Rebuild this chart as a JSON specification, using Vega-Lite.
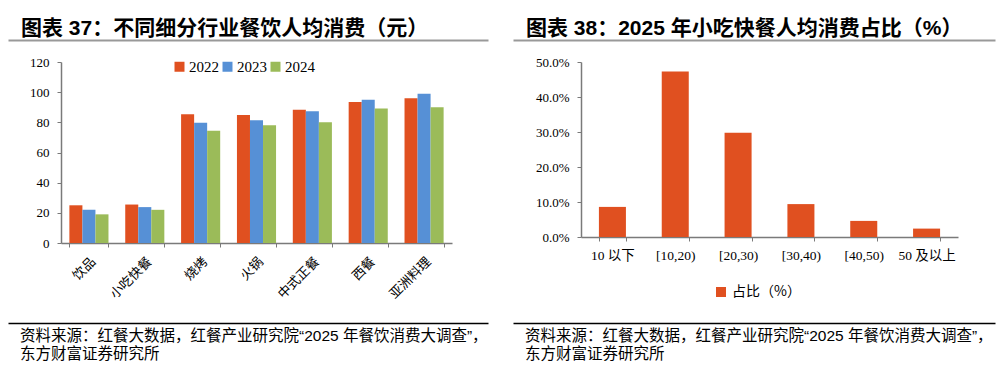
{
  "$schema": "https://vega.github.io/schema/vega-lite/v6.json",
  "padding": {"left": 5, "top": 17, "right": 5, "bottom": 0},
  "background": "#ffffff",
  "config": {
    "view": {"stroke": null},
    "font": "Liberation Sans, Noto Sans CJK SC",
    "axis": {"grid": false}
  },
  "datasets": {
    "spend": [
      {"cat": "饮品", "year": "2022", "value": 25.0},
      {"cat": "饮品", "year": "2023", "value": 22.0},
      {"cat": "饮品", "year": "2024", "value": 19.0},
      {"cat": "小吃快餐", "year": "2022", "value": 25.5},
      {"cat": "小吃快餐", "year": "2023", "value": 23.8},
      {"cat": "小吃快餐", "year": "2024", "value": 22.0},
      {"cat": "烧烤", "year": "2022", "value": 85.3},
      {"cat": "烧烤", "year": "2023", "value": 79.8},
      {"cat": "烧烤", "year": "2024", "value": 74.4},
      {"cat": "火锅", "year": "2022", "value": 84.8},
      {"cat": "火锅", "year": "2023", "value": 81.3},
      {"cat": "火锅", "year": "2024", "value": 78.0},
      {"cat": "中式正餐", "year": "2022", "value": 88.4},
      {"cat": "中式正餐", "year": "2023", "value": 87.3},
      {"cat": "中式正餐", "year": "2024", "value": 80.0},
      {"cat": "西餐", "year": "2022", "value": 93.5},
      {"cat": "西餐", "year": "2023", "value": 95.0},
      {"cat": "西餐", "year": "2024", "value": 89.2},
      {"cat": "亚洲料理", "year": "2022", "value": 96.0},
      {"cat": "亚洲料理", "year": "2023", "value": 99.0},
      {"cat": "亚洲料理", "year": "2024", "value": 90.0}
    ],
    "pct": [
      {"bucket": "10 以下", "series": "占比（%）", "pct": 0.086},
      {"bucket": "[10,20)", "series": "占比（%）", "pct": 0.473},
      {"bucket": "[20,30)", "series": "占比（%）", "pct": 0.298},
      {"bucket": "[30,40)", "series": "占比（%）", "pct": 0.094},
      {"bucket": "[40,50)", "series": "占比（%）", "pct": 0.046},
      {"bucket": "50 及以上", "series": "占比（%）", "pct": 0.024}
    ],
    "one": [{"a": 0}]
  },
  "spacing": 13,
  "resolve": {"scale": {"color": "independent"}, "legend": {"color": "independent"}},
  "vconcat": [
    {
      "spacing": 25,
      "hconcat": [
        {
          "width": 480,
          "height": 1,
          "title": {"text": "图表 37：不同细分行业餐饮人均消费（元）", "anchor": "start", "frame": "group", "dx": 13, "offset": -19, "fontSize": 21, "fontWeight": "bold", "color": "#000000", "baseline": "alphabetic"},
          "data": {"name": "one"},
          "mark": {"type": "point", "opacity": 0},
          "encoding": {
            "x": {"field": "a", "type": "quantitative", "axis": {"domainColor": "#999999", "domainWidth": 2, "ticks": false, "labels": false, "title": null}}
          }
        },
        {
          "width": 482,
          "height": 1,
          "title": {"text": "图表 38：2025 年小吃快餐人均消费占比（%）", "anchor": "start", "frame": "group", "dx": 13, "offset": -19, "fontSize": 21, "fontWeight": "bold", "color": "#000000", "baseline": "alphabetic"},
          "data": {"name": "one"},
          "mark": {"type": "point", "opacity": 0},
          "encoding": {
            "x": {"field": "a", "type": "quantitative", "axis": {"domainColor": "#999999", "domainWidth": 2, "ticks": false, "labels": false, "title": null}}
          }
        }
      ]
    },
    {
      "spacing": 0,
      "resolve": {"scale": {"color": "independent"}, "legend": {"color": "independent"}},
      "hconcat": [
        {
          "width": 1,
          "height": 1,
          "data": {"name": "one"},
          "mark": {"type": "point", "opacity": 0},
          "encoding": {}
        },
        {
          "width": 391,
          "height": 181,
          "data": {"name": "spend"},
          "mark": {"type": "bar"},
          "encoding": {
            "x": {"field": "cat", "type": "nominal", "sort": null, "title": null,
              "scale": {"paddingInner": 0.3, "paddingOuter": 0.15},
              "axis": {"labelAngle": -45, "tickBand": "extent", "labelFont": "Noto Sans CJK SC", "labelFontSize": 13, "labelColor": "#000000", "labelPadding": 8, "tickSize": 4, "tickColor": "#7a7a7a", "domainColor": "#7a7a7a", "domainWidth": 1.5}},
            "xOffset": {"field": "year", "type": "nominal"},
            "y": {"field": "value", "type": "quantitative", "title": null,
              "scale": {"domain": [0, 120]},
              "axis": {"values": [0, 20, 40, 60, 80, 100, 120], "labelFont": "Liberation Serif", "labelFontSize": 13, "labelColor": "#000000", "tickSize": 4, "labelPadding": 8, "tickColor": "#7a7a7a", "domainColor": "#7a7a7a", "domainWidth": 1.5, "minExtent": 49}},
            "color": {"field": "year", "type": "nominal",
              "scale": {"domain": ["2022", "2023", "2024"], "range": ["#E05020", "#5690D6", "#9BBB59"]},
              "legend": {"orient": "none", "legendX": 111, "legendY": -3, "direction": "horizontal", "title": null, "symbolType": "square", "symbolSize": 100, "symbolStrokeWidth": 0, "labelFont": "Liberation Serif", "labelFontSize": 15, "labelColor": "#000000", "labelOffset": 2, "columnPadding": 1}}
          }
        },
        {
          "width": 377,
          "height": 175,
          "data": {"name": "pct"},
          "mark": {"type": "bar"},
          "encoding": {
            "x": {"field": "bucket", "type": "nominal", "sort": null, "title": null,
              "scale": {"paddingInner": 0.57, "paddingOuter": 0.285},
              "axis": {"labelAngle": 0, "tickBand": "extent", "labelFont": "Liberation Serif, Noto Sans CJK SC", "labelFontSize": 13.5, "labelColor": "#000000", "labelPadding": 7, "tickSize": 4, "tickColor": "#7a7a7a", "domainColor": "#7a7a7a", "domainWidth": 1.5}},
            "y": {"field": "pct", "type": "quantitative", "title": null,
              "scale": {"domain": [0, 0.5]},
              "axis": {"values": [0, 0.1, 0.2, 0.3, 0.4, 0.5], "format": ".1%", "labelFont": "Liberation Serif", "labelFontSize": 13, "labelColor": "#000000", "tickSize": 4, "labelPadding": 8, "tickColor": "#7a7a7a", "domainColor": "#7a7a7a", "domainWidth": 1.5, "minExtent": 129}},
            "color": {"field": "series", "type": "nominal",
              "scale": {"range": ["#E05020"]},
              "legend": {"orient": "none", "legendX": 133, "legendY": 223, "direction": "horizontal", "title": null, "symbolType": "square", "symbolSize": 100, "symbolStrokeWidth": 0, "labelFont": "Noto Sans CJK SC", "labelFontSize": 14, "labelColor": "#000000", "labelOffset": 4}}
          }
        }
      ]
    },
    {
      "spacing": 25,
      "hconcat": [
        {
          "width": 480,
          "height": 9,
          "title": {"text": ["资料来源：红餐大数据，红餐产业研究院“2025 年餐饮消费大调查”，", "东方财富证券研究所"], "orient": "bottom", "anchor": "start", "frame": "group", "dx": 12, "offset": 6, "fontSize": 15.5, "fontWeight": "normal", "color": "#000000", "baseline": "top", "lineHeight": 18},
          "data": {"name": "one"},
          "mark": {"type": "point", "opacity": 0},
          "encoding": {
            "x": {"field": "a", "type": "quantitative", "axis": {"domainColor": "#000000", "domainWidth": 1.5, "ticks": false, "labels": false, "title": null}}
          }
        },
        {
          "width": 482,
          "height": 9,
          "title": {"text": ["资料来源：红餐大数据，红餐产业研究院“2025 年餐饮消费大调查”，", "东方财富证券研究所"], "orient": "bottom", "anchor": "start", "frame": "group", "dx": 12, "offset": 6, "fontSize": 15.5, "fontWeight": "normal", "color": "#000000", "baseline": "top", "lineHeight": 18},
          "data": {"name": "one"},
          "mark": {"type": "point", "opacity": 0},
          "encoding": {
            "x": {"field": "a", "type": "quantitative", "axis": {"domainColor": "#000000", "domainWidth": 1.5, "ticks": false, "labels": false, "title": null}}
          }
        }
      ]
    }
  ]
}
